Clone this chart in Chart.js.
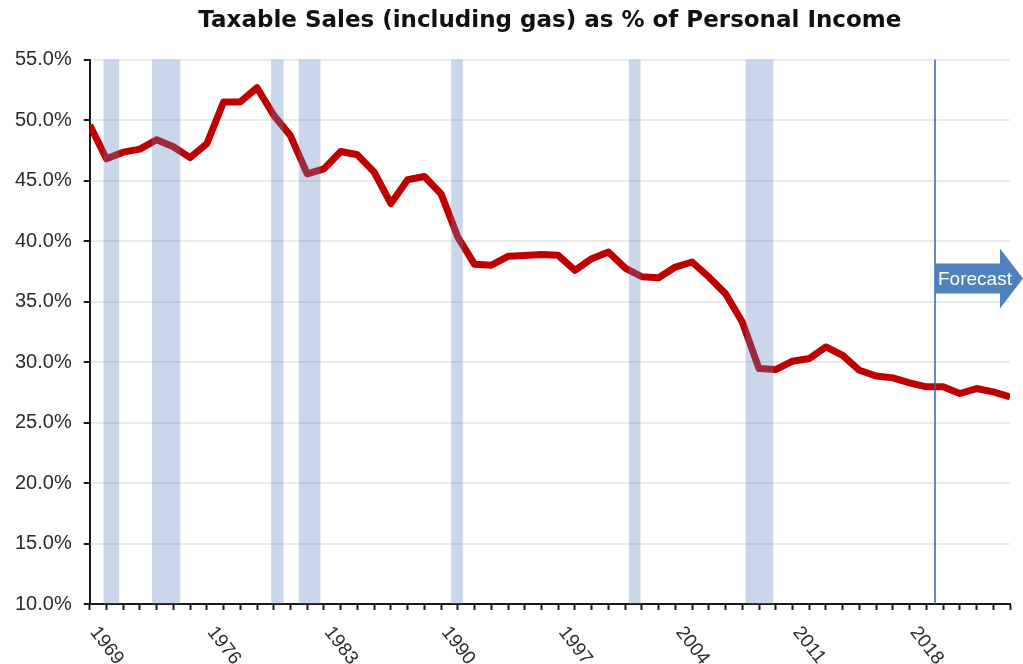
<!DOCTYPE html>
<html>
<head>
<meta charset="utf-8">
<title>Taxable Sales as % of Personal Income</title>
<script src="https://cdn.jsdelivr.net/npm/chart.js@4.4.1/dist/chart.umd.min.js"></script>
<style>
	html, body { margin: 0; padding: 0; background: #fff; }
	#wrap { width: 1023px; height: 664px; }
</style>
</head>
<body>
<div id="wrap"><canvas id="chartSales" width="1023" height="664"></canvas></div>
<script>
'use strict'

// taxable sales (incl. gas) as share of personal income, by year
const years = [
	1969, 1970, 1971, 1972, 1973, 1974, 1975, 1976, 1977, 1978,
	1979, 1980, 1981, 1982, 1983, 1984, 1985, 1986, 1987, 1988,
	1989, 1990, 1991, 1992, 1993, 1994, 1995, 1996, 1997, 1998,
	1999, 2000, 2001, 2002, 2003, 2004, 2005, 2006, 2007, 2008,
	2009, 2010, 2011, 2012, 2013, 2014, 2015, 2016, 2017, 2018,
	2019, 2020, 2021, 2022, 2023, 2024
];
const salesPct = [
	49.6, 46.8, 47.35, 47.6, 48.37, 47.8, 46.9, 48.05, 51.5, 51.5,
	52.67, 50.4, 48.7, 45.56, 45.97, 47.4, 47.13, 45.7, 43.1, 45.07,
	45.34, 43.9, 40.33, 38.08, 38.0, 38.74, 38.8, 38.88, 38.82, 37.58,
	38.54, 39.09, 37.77, 37.05, 36.97, 37.85, 38.27, 37.03, 35.65, 33.31,
	29.46, 29.38, 30.07, 30.29, 31.25, 30.56, 29.32, 28.85, 28.69, 28.28,
	27.95, 27.95, 27.4, 27.81, 27.53, 27.12
];

// recession shading (start / end, fractional years)
const recessionStart = [1969.83, 1972.72, 1979.84, 1981.49, 1990.6, 2001.22, 2008.2];
const recessionEnd = [1970.76, 1974.41, 1980.59, 1982.79, 1991.3, 2001.92, 2009.86];

const labelYears = [1969, 1976, 1983, 1990, 1997, 2004, 2011, 2018];
const forecastYear = 2019.5;
const forecastLabel = 'Forecast';

const colors = {
	line: '#c00000',
	recession: 'rgba(91, 132, 189, 0.32)',
	forecast: '#4f81bd',
	forecastLine: '#2e63b5',
	grid: '#ebebeb',
	axis: '#1a1a1a',
	text: '#2b2b2b',
};

const labelFont = '19px "Liberation Sans", Arial, sans-serif';

let overlays = {
	id: 'overlays',
	afterDatasetsDraw(chart){
		const ctx = chart.ctx;
		const x = chart.scales.x;
		const y = chart.scales.y;
		const area = chart.chartArea;

		// recession bars, laid over the line
		ctx.save();
		ctx.fillStyle = colors.recession;
		recessionStart.forEach(function(start, i){
			const x0 = x.getPixelForValue(start);
			const x1 = x.getPixelForValue(recessionEnd[i]);
			ctx.fillRect(x0, area.top, x1 - x0, area.bottom - area.top);
		});

		// forecast marker
		const fx = Math.round(x.getPixelForValue(forecastYear));
		ctx.strokeStyle = colors.forecastLine;
		ctx.lineWidth = 1.5;
		ctx.beginPath();
		ctx.moveTo(fx, area.top);
		ctx.lineTo(fx, area.bottom);
		ctx.stroke();

		// arrow pointing right
		const cy = y.getPixelForValue(36.9);
		const tip = chart.width;
		const headX = tip - 23;
		ctx.fillStyle = colors.forecast;
		ctx.beginPath();
		ctx.moveTo(fx, cy - 15);
		ctx.lineTo(headX, cy - 15);
		ctx.lineTo(headX, cy - 30);
		ctx.lineTo(tip, cy);
		ctx.lineTo(headX, cy + 30);
		ctx.lineTo(headX, cy + 15);
		ctx.lineTo(fx, cy + 15);
		ctx.closePath();
		ctx.fill();

		ctx.fillStyle = '#fff';
		ctx.font = '19px "Liberation Sans", Arial, sans-serif';
		ctx.textAlign = 'left';
		ctx.textBaseline = 'middle';
		ctx.fillText(forecastLabel, fx + 3, cy + 1);
		ctx.restore();
	},
	afterDraw(chart){
		// slanted year labels, reading downward from the tick
		const ctx = chart.ctx;
		const x = chart.scales.x;
		const base = chart.chartArea.bottom;
		ctx.save();
		ctx.font = labelFont;
		ctx.fillStyle = colors.text;
		ctx.textAlign = 'left';
		ctx.textBaseline = 'middle';
		labelYears.forEach(function(yr){
			const px = x.getPixelForValue(yr);
			ctx.save();
			ctx.translate(px + 4, base + 25);
			ctx.rotate(Math.PI * 0.29);
			ctx.fillText(String(yr), 0, 0);
			ctx.restore();
		});
		ctx.restore();
	},
};

let chartSales = new Chart(document.getElementById('chartSales'), {
	type: 'line',
	data: {
		datasets: [{
			label: 'Taxable Sales % of Personal Income',
			data: years.map((yr, i) => ({x: yr, y: salesPct[i]})),
			borderColor: colors.line,
			backgroundColor: colors.line,
			borderWidth: 7,
			borderJoinStyle: 'round',
			pointRadius: 0,
			tension: 0,
			fill: false,
		}],
	},
	options: {
		responsive: false,
		animation: false,
		layout: {
			padding: {top: 0, right: 13, bottom: 54, left: 3},
		},
		plugins: {
			legend: {display: false},
			tooltip: {enabled: false},
			title: {
				display: true,
				fullSize: false,
				text: 'Taxable Sales (including gas) as % of Personal Income',
				color: '#111',
				font: {family: '"DejaVu Sans", sans-serif', size: 23, weight: 'bold'},
				padding: {top: 7, bottom: 25},
			},
		},
		scales: {
			x: {
				type: 'linear',
				min: 1969,
				max: 2024,
				ticks: {
					display: false,
					stepSize: 1,
					autoSkip: false,
				},
				grid: {
					drawOnChartArea: false,
					drawTicks: true,
					tickLength: 6,
					tickColor: colors.axis,
					tickWidth: 2,
				},
				border: {color: colors.axis, width: 2},
			},
			y: {
				min: 10,
				max: 55,
				ticks: {
					stepSize: 5,
					color: colors.text,
					padding: 12,
					font: {family: '"Liberation Sans", Arial, sans-serif', size: 20},
					callback: (v) => v.toFixed(1) + '%',
				},
				grid: {
					color: colors.grid,
					lineWidth: 2,
					tickLength: 6,
					tickColor: colors.axis,
				},
				border: {color: colors.axis, width: 2},
			},
		},
	},
	plugins: [overlays],
});
</script>
</body>
</html>
